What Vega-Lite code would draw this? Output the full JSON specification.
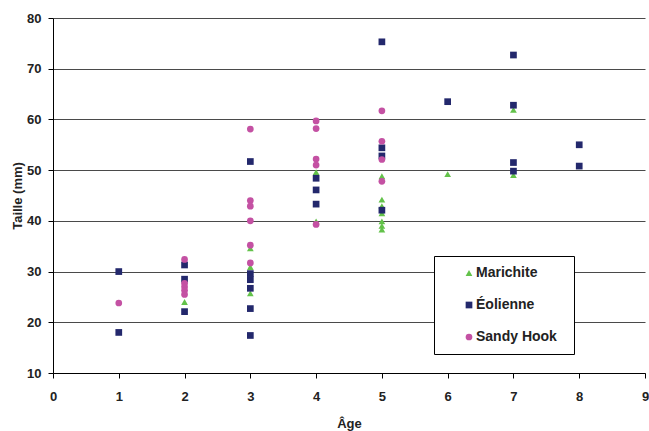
{
  "$schema": "https://vega.github.io/schema/vega-lite/v6.json",
  "width": 592,
  "height": 355,
  "autosize": {"type": "none"},
  "padding": {"left": 53, "top": 18, "right": 4, "bottom": 58},
  "background": "white",
  "config": {
    "view": {"stroke": null},
    "font": "Liberation Sans",
    "axis": {"labelFont": "Liberation Sans", "labelFontWeight": "bold", "labelFontSize": 13, "labelColor": "#222", "titleFont": "Liberation Sans", "titleFontWeight": "bold", "titleFontSize": 13, "titleColor": "#222", "domainColor": "#000", "tickColor": "#000", "tickSize": 5, "labelFlush": false, "labelOverlap": false}
  },
  "data": {"values": [
    {"age": 2, "taille": 24.0, "site": "Marichite"},
    {"age": 3, "taille": 34.6, "site": "Marichite"},
    {"age": 3, "taille": 30.9, "site": "Marichite"},
    {"age": 3, "taille": 25.7, "site": "Marichite"},
    {"age": 4, "taille": 49.6, "site": "Marichite"},
    {"age": 4, "taille": 39.9, "site": "Marichite"},
    {"age": 5, "taille": 48.8, "site": "Marichite"},
    {"age": 5, "taille": 44.2, "site": "Marichite"},
    {"age": 5, "taille": 42.9, "site": "Marichite"},
    {"age": 5, "taille": 41.5, "site": "Marichite"},
    {"age": 5, "taille": 39.9, "site": "Marichite"},
    {"age": 5, "taille": 39.0, "site": "Marichite"},
    {"age": 5, "taille": 38.3, "site": "Marichite"},
    {"age": 6, "taille": 49.2, "site": "Marichite"},
    {"age": 7, "taille": 61.9, "site": "Marichite"},
    {"age": 7, "taille": 49.0, "site": "Marichite"},
    {"age": 1, "taille": 30.0, "site": "Éolienne"},
    {"age": 1, "taille": 18.0, "site": "Éolienne"},
    {"age": 2, "taille": 31.3, "site": "Éolienne"},
    {"age": 2, "taille": 28.5, "site": "Éolienne"},
    {"age": 2, "taille": 22.1, "site": "Éolienne"},
    {"age": 3, "taille": 51.7, "site": "Éolienne"},
    {"age": 3, "taille": 29.6, "site": "Éolienne"},
    {"age": 3, "taille": 28.4, "site": "Éolienne"},
    {"age": 3, "taille": 26.7, "site": "Éolienne"},
    {"age": 3, "taille": 22.7, "site": "Éolienne"},
    {"age": 3, "taille": 17.4, "site": "Éolienne"},
    {"age": 4, "taille": 48.4, "site": "Éolienne"},
    {"age": 4, "taille": 46.1, "site": "Éolienne"},
    {"age": 4, "taille": 43.3, "site": "Éolienne"},
    {"age": 5, "taille": 75.3, "site": "Éolienne"},
    {"age": 5, "taille": 54.4, "site": "Éolienne"},
    {"age": 5, "taille": 52.8, "site": "Éolienne"},
    {"age": 5, "taille": 42.1, "site": "Éolienne"},
    {"age": 6, "taille": 63.5, "site": "Éolienne"},
    {"age": 7, "taille": 72.7, "site": "Éolienne"},
    {"age": 7, "taille": 62.8, "site": "Éolienne"},
    {"age": 7, "taille": 51.5, "site": "Éolienne"},
    {"age": 7, "taille": 49.8, "site": "Éolienne"},
    {"age": 8, "taille": 55.0, "site": "Éolienne"},
    {"age": 8, "taille": 50.8, "site": "Éolienne"},
    {"age": 1, "taille": 23.8, "site": "Sandy Hook"},
    {"age": 2, "taille": 32.4, "site": "Sandy Hook"},
    {"age": 2, "taille": 27.7, "site": "Sandy Hook"},
    {"age": 2, "taille": 27.0, "site": "Sandy Hook"},
    {"age": 2, "taille": 26.3, "site": "Sandy Hook"},
    {"age": 2, "taille": 25.5, "site": "Sandy Hook"},
    {"age": 3, "taille": 58.1, "site": "Sandy Hook"},
    {"age": 3, "taille": 44.0, "site": "Sandy Hook"},
    {"age": 3, "taille": 42.9, "site": "Sandy Hook"},
    {"age": 3, "taille": 40.0, "site": "Sandy Hook"},
    {"age": 3, "taille": 35.2, "site": "Sandy Hook"},
    {"age": 3, "taille": 31.7, "site": "Sandy Hook"},
    {"age": 4, "taille": 59.7, "site": "Sandy Hook"},
    {"age": 4, "taille": 58.2, "site": "Sandy Hook"},
    {"age": 4, "taille": 52.2, "site": "Sandy Hook"},
    {"age": 4, "taille": 51.0, "site": "Sandy Hook"},
    {"age": 4, "taille": 39.3, "site": "Sandy Hook"},
    {"age": 5, "taille": 61.7, "site": "Sandy Hook"},
    {"age": 5, "taille": 55.7, "site": "Sandy Hook"},
    {"age": 5, "taille": 52.1, "site": "Sandy Hook"},
    {"age": 5, "taille": 47.8, "site": "Sandy Hook"}
  ]},
  "mark": {"type": "point", "filled": true, "opacity": 1, "size": 45},
  "encoding": {
    "x": {"field": "age", "type": "quantitative", "title": "Âge",
      "scale": {"domain": [0, 9], "nice": false, "zero": false},
      "axis": {"values": [0,1,2,3,4,5,6,7,8,9], "grid": false, "labelPadding": 12, "titleX": 296, "titleY": 50, "titleBaseline": "middle", "titleAlign": "center"}},
    "y": {"field": "taille", "type": "quantitative", "title": "Taille (mm)",
      "scale": {"domain": [10, 80], "nice": false, "zero": false},
      "axis": {"values": [10,20,30,40,50,60,70,80], "grid": true, "gridColor": "#4a4a4a", "gridWidth": 1, "labelPadding": 7, "titleX": -36, "titleY": 177.5, "titleAngle": 270, "titleBaseline": "middle", "titleAlign": "center"}},
    "color": {"field": "site", "type": "nominal",
      "scale": {"domain": ["Marichite", "Éolienne", "Sandy Hook"], "range": ["#63c24a", "#23286c", "#c451a3"]},
      "legend": {"title": "x", "titleOpacity": 0, "titleOrient": "right", "titlePadding": 0, "orient": "none", "legendX": 381, "legendY": 238, "strokeColor": "#000", "fillColor": "#fff", "padding": 10, "symbolOffset": 18, "rowPadding": 18, "labelFont": "Liberation Sans", "labelFontWeight": "bold", "labelFontSize": 14, "labelColor": "#222", "labelOffset": 0, "symbolSize": 45, "cornerRadius": 0}},
    "shape": {"field": "site", "type": "nominal",
      "scale": {"domain": ["Marichite", "Éolienne", "Sandy Hook"], "range": ["triangle-up", "square", "circle"]}}
  }
}
